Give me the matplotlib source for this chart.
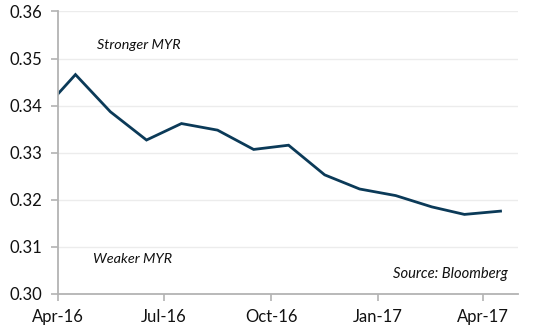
import matplotlib
matplotlib.use("Agg")
import matplotlib.pyplot as plt
import pandas as pd

# data
tanggal = ["2016-04-01", "2016-04-16", "2016-05-16", "2016-06-16", "2016-07-16",
           "2016-08-16", "2016-09-16", "2016-10-16", "2016-11-16", "2016-12-16",
           "2017-01-16", "2017-02-16", "2017-03-16", "2017-04-16"]
nilai = [0.3425, 0.3466, 0.3387, 0.3327, 0.3362, 0.3348, 0.3307, 0.3316,
         0.3253, 0.3223, 0.3209, 0.3185, 0.3169, 0.3176]
tick_tanggal = ["2016-04-01", "2016-07-01", "2016-10-01", "2017-01-01", "2017-04-01"]
tick_label = ["Apr-16", "Jul-16", "Oct-16", "Jan-17", "Apr-17"]
y_ticks = [0.30, 0.31, 0.32, 0.33, 0.34, 0.35, 0.36]

plt.rcParams['font.family'] = ['Lato', 'DejaVu Sans']

x = pd.to_datetime(tanggal)
fig = plt.figure(figsize=(5.34, 3.34), dpi=100)
ax = fig.add_axes([0.1086, 0.1198, 0.8614, 0.8458])

ax.plot(x, nilai, color="#0b3a58", linewidth=2.0, solid_joinstyle="miter")

ax.set_xlim(pd.Timestamp("2016-04-01"), pd.Timestamp("2017-05-01"))
ax.set_ylim(0.30, 0.36)
ax.set_xticks(pd.to_datetime(tick_tanggal))
ax.set_xticklabels(tick_label)
ax.set_yticks(y_ticks)
ax.set_yticklabels([f"{v:.2f}" for v in y_ticks])

ax.grid(axis="y", color="#ececec", linewidth=1)
ax.set_axisbelow(True)
for s in ["top", "right"]:
    ax.spines[s].set_visible(False)
for s in ["left", "bottom"]:
    ax.spines[s].set_color("#b3b3b3")
    ax.spines[s].set_linewidth(1.3)
ax.tick_params(axis="both", colors="#b3b3b3", length=5, width=1.2,
               labelsize=12, labelcolor="#111111", pad=6)

# teks keterangan
ax.text(0.085, 0.881, "Stronger MYR", transform=ax.transAxes, style="italic",
        fontsize=10.4, color="#111111", va="center")
ax.text(0.076, 0.125, "Weaker MYR", transform=ax.transAxes, style="italic",
        fontsize=10.4, color="#111111", va="center")
ax.text(0.978, 0.07, "Source: Bloomberg", transform=ax.transAxes, style="italic",
        fontsize=10.6, color="#111111", va="center", ha="right")

fig.savefig("out.png", dpi=100)
